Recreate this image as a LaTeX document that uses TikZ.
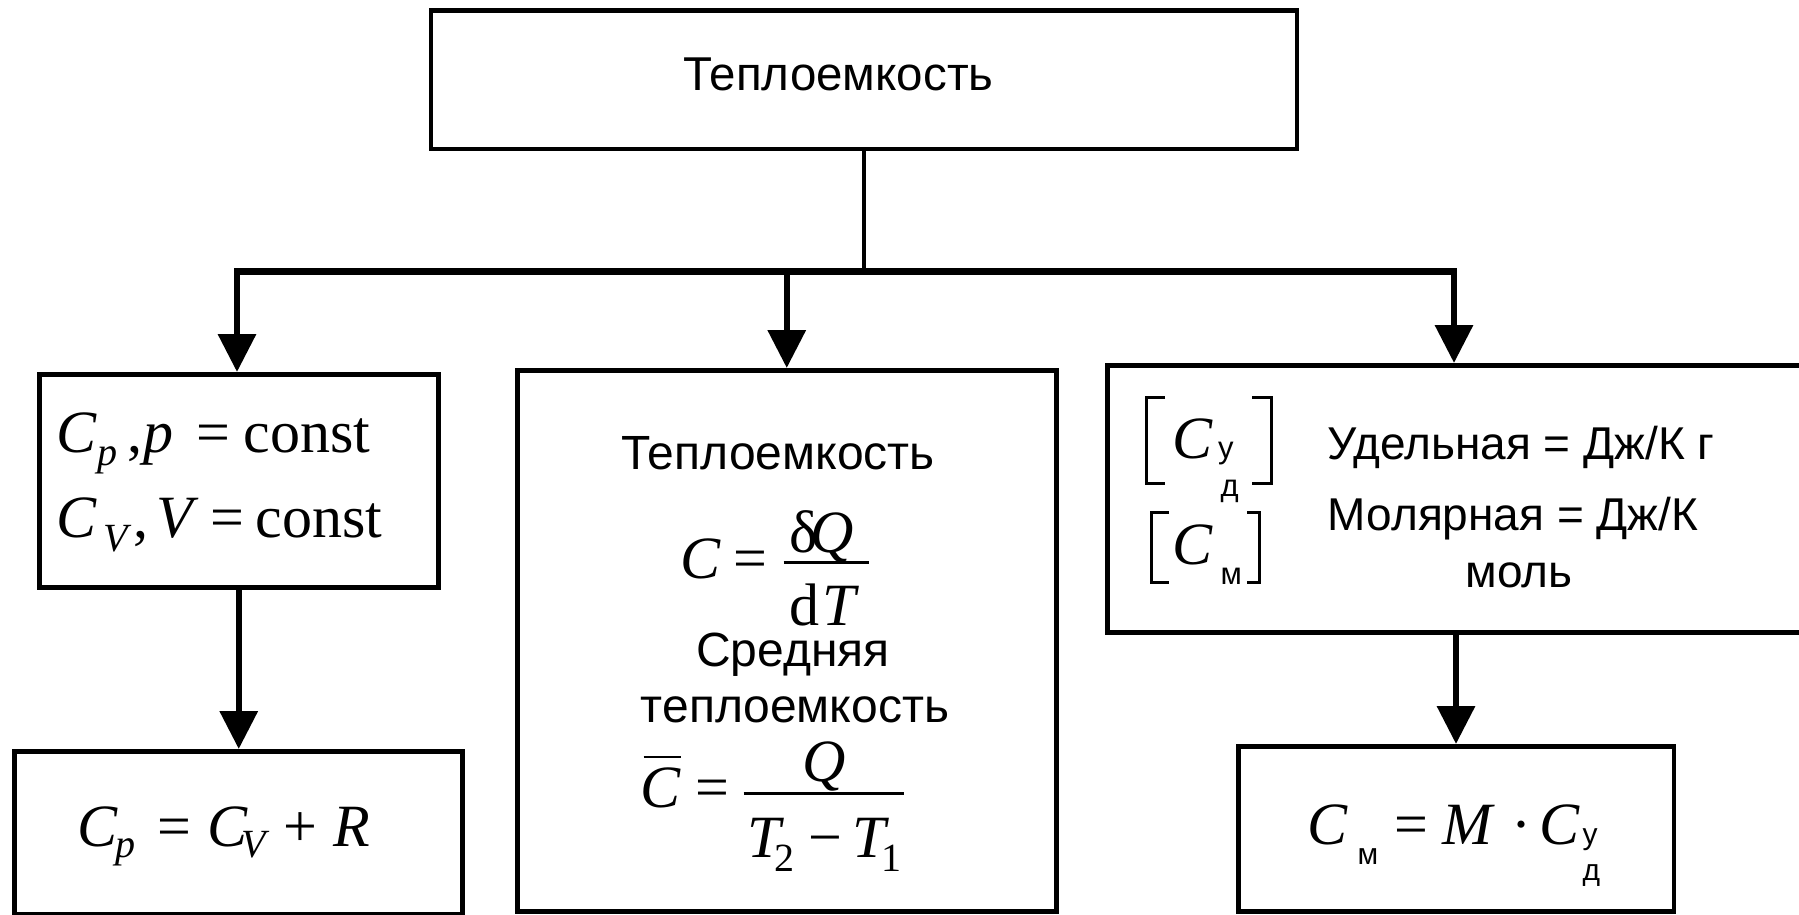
\documentclass[tikz,border=0pt]{standalone}
\usepackage{fontspec}
\setmainfont{Liberation Sans}
\newfontfamily\tms{Liberation Serif}
\usetikzlibrary{arrows.meta}
\newcommand\fs[1]{\fontsize{#1}{#1}\selectfont}
\newcommand\pc[3]{\rlap{\hspace*{#1pt}\raisebox{#2pt}{#3}}}
\newcommand\ti{\tms\itshape}
\newcommand\tu{\tms\upshape}
\begin{document}
\begin{tikzpicture}[x=1pt,y=-1pt,
  boxst/.style={draw, line width=4.5pt, rectangle, inner sep=0pt, anchor=north west},
  arr/.style={line width=6.5pt, -{Triangle[width=37pt,length=38pt]}},
  thinln/.style={line width=3.5pt},
  barln/.style={line width=6.7pt, line cap=rect},
  txt/.style={inner sep=0pt, anchor=base, font=\fs{47.5}},
  frm/.style={inner sep=0pt, anchor=base west},
  brk/.style={line width=3pt}]
\useasboundingbox[fill=white] (0,0) rectangle (1799,914);
% boxes
\node[boxst, minimum width=866pt, minimum height=138.4pt] (top) at (428.7,8.3) {};
\node[boxst, minimum width=399pt, minimum height=213pt] (L1) at (37,372) {};
\node[boxst, minimum width=448pt, minimum height=163pt] (L2) at (12,749) {};
\node[boxst, minimum width=539pt, minimum height=541pt] (M) at (515,368) {};
\node[boxst, minimum width=725pt, minimum height=267pt] (R1) at (1105,363) {};
\node[boxst, minimum width=435.5pt, minimum height=165pt] (R2) at (1236,744) {};
% connectors
\coordinate (bl) at (237,271.7);
\coordinate (br) at (1454,271.7);
\draw[thinln] (top.south) -- (top.south |- bl);
\draw[barln] (bl) -- (br);
\draw[arr] (bl) -- (bl |- L1.north);
\draw[arr] (bl -| M.north) -- (M.north);
\draw[arr] (br) -- (br |- R1.north);
\draw[arr] (L1.south) -- (L1.south |- L2.north);
\draw[arr] (R1.south -| R2.north) -- (R2.north);
% texts
\node[txt] (tT) at (838.5,90.7) {Теплоемкость};
\node[txt, font=\fs{48}] (mT) at (778,469) {Теплоемкость};
\node[txt, font=\fs{48}] (mS) at (793,666.5) {Средняя};
\node[txt, font=\fs{48}] (mS2) at (795,722) {теплоемкость};
\node[frm, font=\fs{46}] (rU) at (1327.6,459.7) {Удельная = Дж/К г};
\node[frm, font=\fs{46}] (rM) at (1327.6,530) {Молярная = Дж/К};
\node[txt, font=\fs{46}] (rm) at (1519,587) {моль};
% formulas
\node[frm] (f1) at (55.5,452) {\pc{0}{0}{\fs{60}\ti C}\pc{41}{-13}{\fs{40}\ti p}\pc{71}{0}{\fs{60}\tu ,}\pc{87}{0}{\fs{60}\ti p}\pc{140.5}{0}{\fs{60}\tu =}\pc{187.5}{0}{\fs{60}\tu const}};
\node[frm] (f2) at (55.5,537) {\pc{0}{0}{\fs{60}\ti C}\pc{47.5}{-14}{\fs{40}\ti V}\pc{77.5}{0}{\fs{60}\tu ,}\pc{100.5}{0}{\fs{60}\ti V}\pc{154.5}{0}{\fs{60}\tu =}\pc{199.5}{0}{\fs{60}\tu const}};
\node[frm] (f3) at (76.5,846) {\pc{0}{0}{\fs{60}\ti C}\pc{38.5}{-11}{\fs{40}\ti p}\pc{80.5}{0}{\fs{60}\tu =}\pc{130}{0}{\fs{60}\ti C}\pc{164}{-11}{\fs{40}\ti V}\pc{206.5}{0}{\fs{60}\tu +}\pc{256.5}{0}{\fs{60}\ti R}};
\node[frm] (f4) at (680,578) {\pc{0}{0}{\fs{60}\ti C}\pc{53}{0}{\fs{60}\tu =}\pc{103}{14.5}{\rule{85pt}{3pt}}\pc{109}{26}{\fs{60}\tu δ}\pc{130}{26}{\fs{60}\ti Q}\pc{109}{-47}{\fs{60}\tu d}\pc{141.5}{-47}{\fs{60}\ti T}};
\node[frm] (f5) at (640,807) {\pc{0}{0}{\fs{60}\ti C}\pc{3}{49}{\rule{37pt}{2.5pt}}\pc{55}{0}{\fs{60}\tu =}\pc{103}{12.5}{\rule{160pt}{3pt}}\pc{162}{25.4}{\fs{60}\ti Q}\pc{107}{-50}{\fs{60}\ti T}\pc{133.6}{-64.6}{\fs{40}\tu 2}\pc{168}{-50}{\fs{60}\tu −}\pc{212}{-50}{\fs{60}\ti T}\pc{241}{-64.6}{\fs{40}\tu 1}};
\node[frm] (f6) at (1307,844.6) {\pc{0}{0}{\fs{60}\ti C}\pc{50}{-19.4}{\fs{30}м}\pc{87}{0}{\fs{60}\tu =}\pc{135}{0}{\fs{60}\ti M}\pc{203.5}{0}{\fs{60}\tu ·}\pc{231.5}{0}{\fs{60}\ti C}\pc{275}{0}{\fs{30}у}\pc{275}{-36}{\fs{30}д}};
\node[frm] (f7) at (1172,458) {\pc{0}{0}{\fs{60}\ti C}\pc{45.5}{0}{\fs{31}у}\pc{48}{-38}{\fs{31}д}};
\node[frm] (f8) at (1172,564) {\pc{0}{0}{\fs{60}\ti C}\pc{48}{-20}{\fs{31}м}};
% brackets
\draw[brk] (1165,397) -- (1146,397) -- (1146,483) -- (1165,483);
\draw[brk] (1252,397) -- (1271,397) -- (1271,483) -- (1252,483);
\draw[brk] (1169,512) -- (1151,512) -- (1151,582) -- (1169,582);
\draw[brk] (1247,512) -- (1259,512) -- (1259,582) -- (1247,582);
\end{tikzpicture}
\end{document}
